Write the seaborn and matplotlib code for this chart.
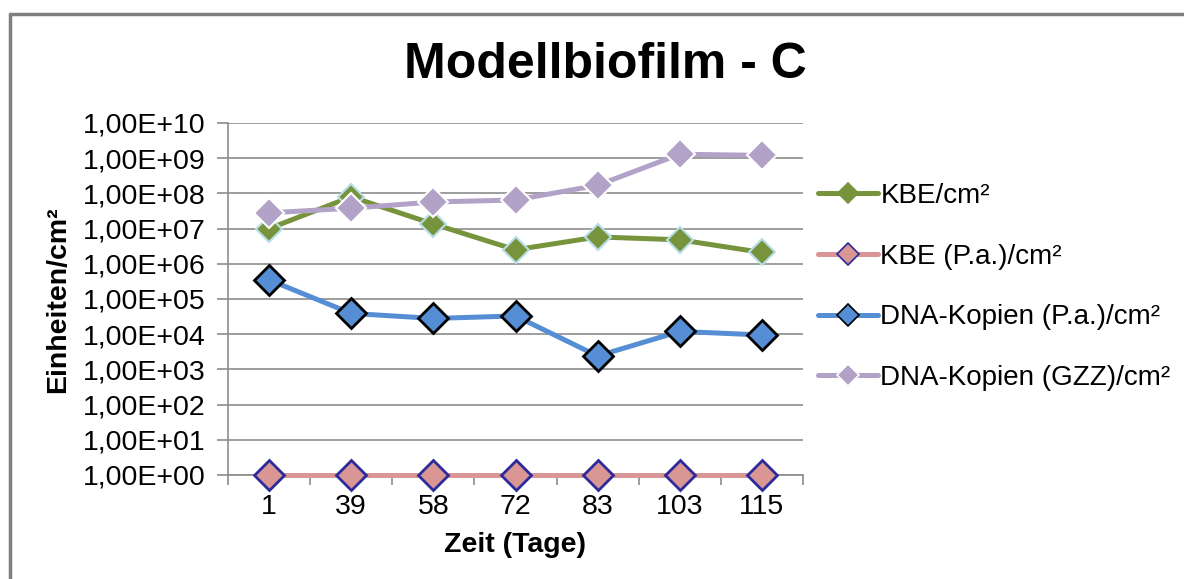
import matplotlib
matplotlib.use("Agg")
import math
import matplotlib.pyplot as plt
import seaborn as sns
import pandas as pd
from matplotlib.lines import Line2D
from matplotlib.ticker import FixedLocator, FuncFormatter, NullLocator

# ---- data ----
days = ["1", "39", "58", "72", "83", "103", "115"]
kbe = [1.0e7, 8.0e7, 1.35e7, 2.5e6, 5.8e6, 4.8e6, 2.1e6]
kbe_pa = [1, 1, 1, 1, 1, 1, 1]
dna_pa = [3.5e5, 3.9e4, 2.8e4, 3.3e4, 2.4e3, 1.2e4, 9.5e3]
dna_gzz = [2.8e7, 3.8e7, 5.7e7, 6.5e7, 1.7e8, 1.3e9, 1.2e9]

series_names = ["KBE/cm²", "KBE (P.a.)/cm²", "DNA-Kopien (P.a.)/cm²", "DNA-Kopien (GZZ)/cm²"]
series_values = [kbe, kbe_pa, dna_pa, dna_gzz]
y_ticks = [10.0 ** k for k in range(0, 11)]

styles = [
    dict(color="#77933C", mfc="#77933C", mec="#B7DEE8", ms=13, mew=1.5),
    dict(color="#D99694", mfc="#D99694", mec="#2B2B9B", ms=15, mew=2.0),
    dict(color="#558ED5", mfc="#558ED5", mec="#000000", ms=15, mew=2.0),
    dict(color="#B3A2C7", mfc="#B3A2C7", mec="#FFFFFF", ms=15, mew=1.5),
]

sns.set_theme(style="white")
plt.rcParams["font.family"] = ["Liberation Sans", "DejaVu Sans"]
plt.rcParams["text.color"] = "black"
plt.rcParams["axes.labelcolor"] = "black"
plt.rcParams["xtick.color"] = "black"
plt.rcParams["ytick.color"] = "black"

fig = plt.figure(figsize=(11.84, 5.79), dpi=100)
ax = fig.add_axes([228 / 1184, 1 - 475 / 579, (803 - 228) / 1184, (475 - 123) / 579])

frames = []
for name, vals in zip(series_names, series_values):
    frames.append(pd.DataFrame({"Zeit": days, "Wert": vals, "Serie": name}))
df = pd.concat(frames, ignore_index=True)

handles = []
for name, st in zip(series_names, styles):
    sub = df[df["Serie"] == name]
    sns.pointplot(data=sub, x="Zeit", y="Wert", order=days, ax=ax,
                  color=st["color"], markers="D", errorbar=None,
                  linewidth=3.6, markersize=st["ms"],
                  markerfacecolor=st["mfc"], markeredgecolor=st["mec"],
                  markeredgewidth=st["mew"], zorder=3, clip_on=False)
    handles.append(Line2D([0], [0], color=st["color"], lw=3.6, marker="D",
                          markersize=st["ms"] * 0.75, markerfacecolor=st["mfc"],
                          markeredgecolor=st["mec"] if name != "KBE/cm²" else st["mfc"],
                          markeredgewidth=1.2))

ax.set_yscale("log")
ax.set_ylim(1, 1e10)
ax.set_xlim(-0.5, len(days) - 0.5)
ax.yaxis.set_major_locator(FixedLocator(y_ticks))
ax.yaxis.set_minor_locator(NullLocator())


def fmt(v, pos):
    e = int(round(math.log10(v)))
    return "1,00E+%02d" % e


ax.yaxis.set_major_formatter(FuncFormatter(fmt))
ax.grid(axis="y", color="#8C8C8C", linewidth=1.2)
ax.grid(axis="x", visible=False)
ax.set_axisbelow(True)
for s in ["top", "right"]:
    ax.spines[s].set_visible(False)
for s in ["left", "bottom"]:
    ax.spines[s].set_color("#8C8C8C")
    ax.spines[s].set_linewidth(1.2)

# x ticks at category boundaries
ax.set_xticks(range(len(days)))
ax.set_xticklabels(days)
ax.set_xticks([i - 0.5 for i in range(len(days) + 1)], minor=True)
ax.tick_params(axis="x", which="major", length=0, pad=14, labelsize=20.5, labelcolor="black")
ax.tick_params(axis="x", which="minor", length=7, width=1.2, color="#8C8C8C", direction="out", bottom=True)
ax.tick_params(axis="y", which="major", length=8, width=1.2, color="#8C8C8C", direction="out",
               left=True, pad=8, labelsize=20.5, labelcolor="black")

ax.set_xlabel("Zeit (Tage)", fontsize=20.5, fontweight="bold", labelpad=8, color="black")
ax.set_ylabel("")
fig.text(58 / 1184, 1 - 300 / 579, "Einheiten/cm²", rotation=90, ha="center", va="center",
         fontsize=20.5, fontweight="bold", color="black")

fig.text(605 / 1184, 1 - 65 / 579, "Modellbiofilm - C", ha="center", va="center",
         fontsize=36, fontweight="bold", color="black")

leg = fig.legend(handles, series_names, loc="upper left",
                 bbox_to_anchor=(818 / 1184, 1 - 183 / 579), frameon=False,
                 fontsize=20, handlelength=2.15, handletextpad=0.1,
                 labelspacing=1.25, borderpad=0, borderaxespad=0)
for t in leg.get_texts():
    t.set_color("black")

# outer chart border (left and top visible)
fig.add_artist(Line2D([10 / 1184, 10 / 1184], [0, 1 - 14 / 579], transform=fig.transFigure,
                      color="#7F7F7F", lw=2.5))
fig.add_artist(Line2D([10 / 1184, 1], [1 - 14 / 579, 1 - 14 / 579], transform=fig.transFigure,
                      color="#7F7F7F", lw=2.5))

fig.savefig("out.png", dpi=100, facecolor="white")
